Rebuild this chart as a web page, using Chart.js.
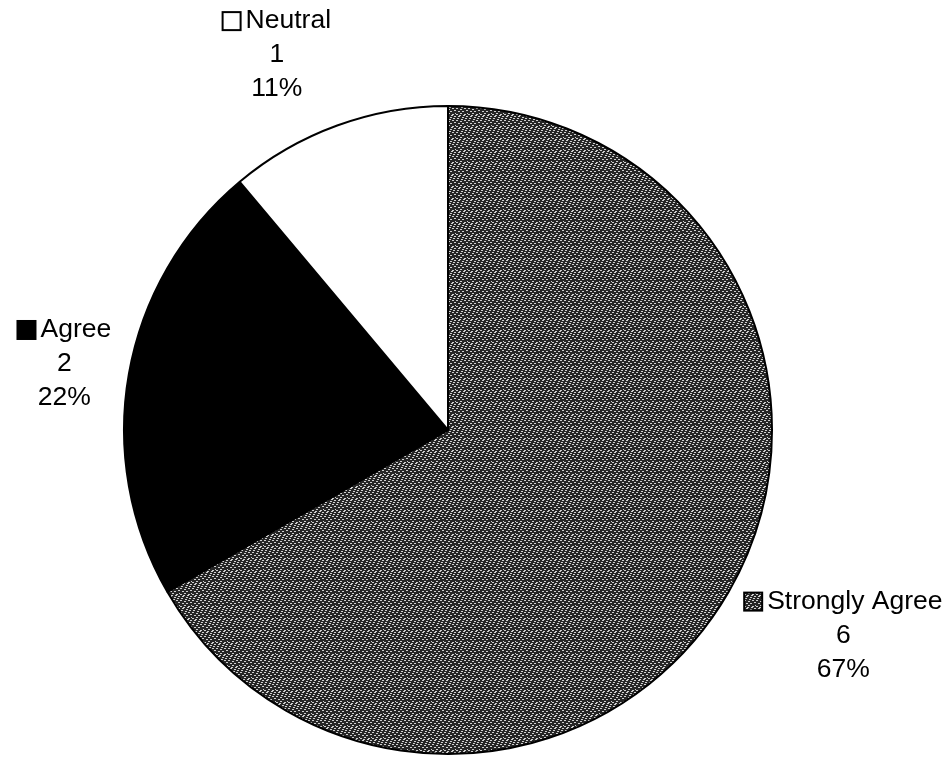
<!DOCTYPE html>
<html>
<head>
<meta charset="utf-8">
<script src="https://cdn.jsdelivr.net/npm/chart.js@4.4.1/dist/chart.umd.min.js"></script>
<style>
  html, body { margin: 0; padding: 0; background: #ffffff; }
  #wrap { width: 950px; height: 759px; position: relative; }
</style>
</head>
<body>
<div id="wrap"><canvas id="pie"></canvas></div>
<script>
// Chart data
var categories = ['Strongly Agree', 'Agree', 'Neutral'];
var counts = [6, 2, 1];
var percentLabels = ['67%', '22%', '11%'];

// Speckled fill for the big slice (fixed tile, not data)
function makeSpeckle() {
  var tile = document.createElement('canvas');
  tile.width = 12;
  tile.height = 12;
  var t = tile.getContext('2d');
  t.fillStyle = '#262626';
  t.fillRect(0, 0, 12, 12);
  t.fillStyle = '#cfcfcf';
  var dots = [[0,0],[4,1],[8,0],[2,3],[6,3],[10,2],[0,6],[4,5],[8,6],[2,8],[6,9],[10,8],
              [1,10],[5,11],[9,10],[11,5],[7,7],[3,7]];
  dots.forEach(function (d) { t.fillRect(d[0], d[1], 2, 1); });
  return tile;
}

var ctx = document.getElementById('pie').getContext('2d');
var speckle = ctx.createPattern(makeSpeckle(), 'repeat');
var sliceColors = [speckle, '#000000', '#ffffff'];

// Outside labels: key box + name, value, percent
var outsideLabels = {
  id: 'outsideLabels',
  afterDatasetsDraw: function (chart) {
    var c = chart.ctx;
    var meta = chart.getDatasetMeta(0);
    var font = '26.5px "Liberation Sans", Arial, sans-serif';
    var lineH = 34;
    var box = 18;
    c.save();
    c.font = font;
    c.fillStyle = '#000';
    c.textBaseline = 'middle';
    meta.data.forEach(function (arc, i) {
      var p = arc.getProps(['x', 'y', 'startAngle', 'endAngle', 'outerRadius'], true);
      var mid = (p.startAngle + p.endAngle) / 2;
      var dx = Math.cos(mid), dy = Math.sin(mid);
      var ax = p.x + (p.outerRadius + 18) * dx;
      var ay = p.y + (p.outerRadius + 18) * dy;
      var nameW = c.measureText(categories[i]).width + box + 5;
      var w = Math.max(nameW, c.measureText(percentLabels[i]).width);
      var h = lineH * 3;
      var cx = ax + (dx >= 0 ? 1 : -1) * w / 2;
      var cy = ay + dy * h * 0.6 + 4;
      var top = cy - h / 2 + lineH / 2;

      // first line: key box and category
      var x0 = cx - nameW / 2;
      c.fillStyle = sliceColors[i];
      c.fillRect(x0, top - box / 2, box, box);
      c.lineWidth = 2;
      c.strokeStyle = '#000';
      c.strokeRect(x0, top - box / 2, box, box);
      c.fillStyle = '#000';
      c.textAlign = 'left';
      c.fillText(categories[i], x0 + box + 5, top);

      c.textAlign = 'center';
      c.fillText(String(counts[i]), cx, top + lineH);
      c.fillText(percentLabels[i], cx, top + lineH * 2);
    });
    c.restore();
  }
};

new Chart(ctx, {
  type: 'pie',
  data: {
    labels: categories,
    datasets: [{
      data: counts,
      backgroundColor: sliceColors,
      borderColor: '#000000',
      borderWidth: 2
    }]
  },
  options: {
    responsive: true,
    maintainAspectRatio: false,
    animation: false,
    layout: {
      padding: { left: 123, right: 177, top: 105, bottom: 4 }
    },
    plugins: {
      legend: { display: false },
      tooltip: { enabled: false }
    }
  },
  plugins: [outsideLabels]
});
</script>
</body>
</html>
